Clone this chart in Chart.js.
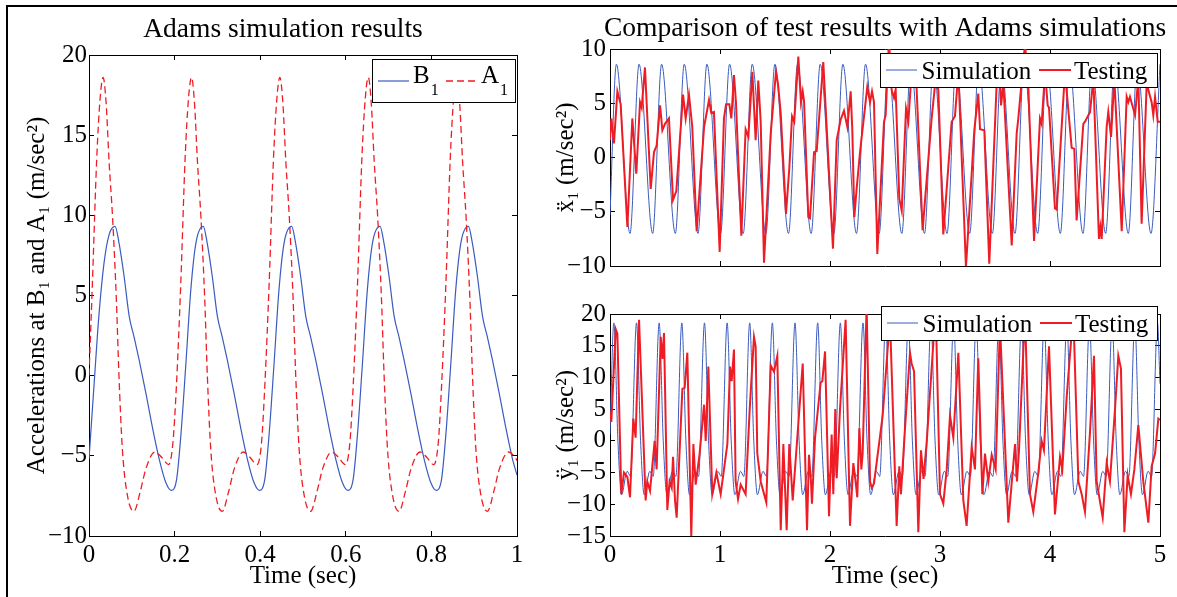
<!DOCTYPE html>
<html>
<head>
<meta charset="utf-8">
<script src="https://cdn.jsdelivr.net/npm/chart.js@4.4.0/dist/chart.umd.min.js"></script>
<style>
  html, body { margin: 0; padding: 0; background: #fff; }
  body { width: 1177px; height: 597px; position: relative; overflow: hidden; }
  canvas { position: absolute; }
  #frame { position: absolute; left: 6px; top: 5px; width: 1171px; height: 592px;
           border-top: 2px solid #000; border-left: 2px solid #000; }
</style>
</head>
<body>
<div id="frame"></div>
<canvas id="adams" width="580" height="597" style="left:0;top:0"></canvas>
<canvas id="testX" width="647" height="290" style="left:530px;top:0"></canvas>
<canvas id="testY" width="647" height="307" style="left:530px;top:290px"></canvas>
<script>
// Adams simulation, left panel (time in sec, acceleration in m/sec^2)
const b1Time = [0, 0.012, 0.023, 0.035, 0.047, 0.061, 0.070, 0.082, 0.094, 0.105, 0.117, 0.133, 0.148, 0.164, 0.180, 0.192,
  0.2045, 0.215, 0.226, 0.238, 0.250, 0.267, 0.276, 0.288, 0.300, 0.311, 0.323, 0.339, 0.354, 0.370, 0.386, 0.398,
  0.4105, 0.421, 0.432, 0.444, 0.456, 0.4735, 0.4825, 0.4945, 0.5065, 0.5175, 0.5295, 0.5455, 0.5605, 0.5765, 0.5925, 0.6045,
  0.617, 0.6275, 0.6385, 0.6505, 0.6625, 0.680, 0.689, 0.701, 0.713, 0.724, 0.736, 0.752, 0.767, 0.783, 0.799, 0.811,
  0.8235, 0.834, 0.845, 0.857, 0.869, 0.8865, 0.8955, 0.9075, 0.9195, 0.9305, 0.9425, 0.9585, 0.9735, 0.9895, 1.0];
const b1Accel = [-5.2, -0.5, 3.7, 7.0, 8.8, 9.31, 8.3, 6.2, 3.7, 2.45, 1.0, -1.1, -3.2, -5.2, -6.7, -7.15,
  -6.5, -3.6, 0.6, 5.4, 8.3, 9.31, 8.3, 6.2, 3.7, 2.45, 1.0, -1.1, -3.2, -5.2, -6.7, -7.15,
  -6.5, -3.6, 0.6, 5.4, 8.3, 9.31, 8.3, 6.2, 3.7, 2.45, 1.0, -1.1, -3.2, -5.2, -6.7, -7.15,
  -6.5, -3.6, 0.6, 5.4, 8.3, 9.31, 8.3, 6.2, 3.7, 2.45, 1.0, -1.1, -3.2, -5.2, -6.7, -7.15,
  -6.5, -3.6, 0.6, 5.4, 8.3, 9.31, 8.3, 6.2, 3.7, 2.45, 1.0, -1.1, -3.2, -5.2, -6.2];

const a1Time = [0, 0.008, 0.018, 0.026, 0.033, 0.040, 0.047, 0.055, 0.064, 0.070, 0.078, 0.090, 0.105, 0.120, 0.133, 0.154, 0.170, 0.186,
  0.196, 0.2045, 0.2145, 0.2245, 0.2325, 0.2395, 0.2465, 0.2535, 0.2615, 0.2705, 0.2765, 0.2845, 0.2965, 0.3115, 0.3265, 0.3395, 0.3605, 0.3765, 0.3925,
  0.403, 0.411, 0.421, 0.431, 0.439, 0.446, 0.453, 0.460, 0.468, 0.477, 0.483, 0.491, 0.503, 0.518, 0.533, 0.546, 0.567, 0.583, 0.599,
  0.6095, 0.6175, 0.6275, 0.6375, 0.6455, 0.6525, 0.6595, 0.6665, 0.6745, 0.6835, 0.6895, 0.6975, 0.7095, 0.7245, 0.7395, 0.7525, 0.7735, 0.7895, 0.8055,
  0.816, 0.824, 0.834, 0.844, 0.852, 0.859, 0.866, 0.873, 0.881, 0.890, 0.896, 0.904, 0.916, 0.931, 0.946, 0.959, 0.980, 0.996, 1.0];
const a1Accel = [0.0, 5.8, 13.5, 17.3, 18.6, 17.0, 13.3, 9.9, 4.7, 0, -4.6, -7.5, -8.46, -7.2, -5.8, -4.76, -5.1, -5.55,
  -4.2, -0.5, 5.8, 13.5, 17.3, 18.6, 17.0, 13.3, 9.9, 4.7, 0, -4.6, -7.5, -8.46, -7.2, -5.8, -4.76, -5.1, -5.55,
  -4.2, -0.5, 5.8, 13.5, 17.3, 18.6, 17.0, 13.3, 9.9, 4.7, 0, -4.6, -7.5, -8.46, -7.2, -5.8, -4.76, -5.1, -5.55,
  -4.2, -0.5, 5.8, 13.5, 17.3, 18.6, 17.0, 13.3, 9.9, 4.7, 0, -4.6, -7.5, -8.46, -7.2, -5.8, -4.76, -5.1, -5.55,
  -4.2, -0.5, 5.8, 13.5, 17.3, 18.6, 17.0, 13.3, 9.9, 4.7, 0, -4.6, -7.5, -8.46, -7.2, -5.8, -4.76, -5.1, -5.3];

// right top panel: x1 double dot, simulation (peaks / troughs) and test record
const xSimTime = [0, 0.058, 0.182, 0.264, 0.388, 0.469, 0.594, 0.675, 0.800, 0.881, 1.005, 1.087, 1.211, 1.293, 1.417,
  1.499, 1.623, 1.705, 1.829, 1.911, 2.035, 2.117, 2.241, 2.323, 2.447, 2.528, 2.653, 2.734, 2.859, 2.940, 3.064,
  3.146, 3.270, 3.352, 3.476, 3.558, 3.682, 3.764, 3.888, 3.970, 4.094, 4.176, 4.300, 4.382, 4.506, 4.587, 4.712,
  4.793, 4.918, 5.000];
const xSimAccel = [-5.3, 8.6, -7.0, 8.6, -7.0, 8.6, -7.0, 8.6, -7.0, 8.6, -7.0, 8.6, -7.0, 8.6, -7.0,
  8.6, -7.0, 8.6, -7.0, 8.6, -7.0, 8.6, -7.0, 8.6, -7.0, 8.6, -7.0, 8.6, -7.0, 8.6, -7.0,
  8.6, -7.0, 8.6, -7.0, 8.6, -7.0, 8.6, -7.0, 8.6, -7.0, 8.6, -7.0, 8.6, -7.0, 8.6, -7.0,
  8.6, -7.0, 8.6];

const xTestTime = [0.000, 0.012, 0.036, 0.067, 0.097, 0.158, 0.203, 0.239, 0.273, 0.288, 0.318, 0.370, 0.400, 0.424, 0.455,
  0.476, 0.500, 0.536, 0.573, 0.603, 0.664, 0.688, 0.718, 0.748, 0.788, 0.855, 0.900, 0.921, 0.945, 0.997,
  1.036, 1.055, 1.085, 1.103, 1.127, 1.145, 1.194, 1.233, 1.258, 1.294, 1.324, 1.348, 1.370, 1.400, 1.461,
  1.509, 1.527, 1.552, 1.600, 1.630, 1.655, 1.675, 1.712, 1.736, 1.752, 1.764, 1.803, 1.818, 1.855, 1.879,
  1.939, 2.027, 2.061, 2.097, 2.127, 2.158, 2.188, 2.203, 2.221, 2.242, 2.273, 2.339, 2.364, 2.382, 2.400,
  2.430, 2.491, 2.506, 2.536, 2.561, 2.582, 2.597, 2.630, 2.652, 2.691, 2.712, 2.742, 2.764, 2.782, 2.842,
  2.924, 2.964, 2.985, 3.030, 3.106, 3.136, 3.167, 3.236, 3.312, 3.348, 3.364, 3.403, 3.448, 3.515, 3.536,
  3.555, 3.576, 3.652, 3.697, 3.712, 3.773, 3.803, 3.855, 3.909, 3.924, 3.955, 3.979, 3.991, 4.045, 4.061,
  4.136, 4.197, 4.221, 4.242, 4.303, 4.318, 4.364, 4.394, 4.445, 4.458, 4.470, 4.515, 4.530, 4.555, 4.585,
  4.652, 4.697, 4.712, 4.727, 4.773, 4.803, 4.833, 4.879, 4.924, 4.939, 4.955, 4.979, 5.000];
const xTestAccel = [1.6, 3.6, 1.3, 6.1, 4.9, -6.4, 3.6, -1.5, 5.1, 4.6, 8.3, -2.9, 0.5, 1.1, 4.8,
  2.5, 3.1, 3.6, -3.9, -3.1, 5.8, 3.6, 5.8, 2.8, -6.8, 2.8, 5.3, 4.1, 4.2, -8.7,
  3.6, 4.9, 4.9, 3.6, 7.6, 5.1, -7.2, 2.6, 1.9, 7.9, 1.6, 7.1, 3.3, -9.7, 2.2,
  7.9, 6.8, 4.1, -5.2, -1.0, 3.8, 3.3, 9.3, 5.1, 6.1, 5.2, -5.5, -5.6, 0.5, 0.6,
  8.8, -8.4, 1.6, 3.5, 4.3, 2.8, 6.1, 2.5, -5.5, -2.9, 0.5, 6.5, 5.1, 6.1, 5.1,
  -8.9, 3.3, 3.9, 10.8, 6.2, 5.5, 6.3, -3.8, -4.9, 4.5, 3.3, 7.9, 6.8, 7.6, -6.7,
  3.6, 7.6, 6.2, -7.1, 3.3, 3.8, 7.9, -10.1, 2.5, 5.9, 2.6, 2.5, -9.8, 6.8, 9.0,
  4.8, 6.8, -8.1, 2.2, 3.6, 10.5, 6.5, -7.7, 3.6, 3.1, 7.9, 4.8, 4.6, -4.7, -4.8,
  7.9, 0.9, 0.8, -5.8, 3.1, 3.3, 4.2, 7.3, -7.5, -6.4, -7.5, 2.8, 4.2, 1.9, 7.3,
  -6.8, 5.6, 5.1, 5.6, 3.9, 7.3, -6.1, 6.8, 5.1, 3.9, 5.6, 3.3, 3.3];

// right bottom panel: y1 double dot
const ySimTime = [0,
  0.035, 0.072, 0.105, 0.156, 0.187, 0.241, 0.278, 0.311, 0.362, 0.393,
  0.447, 0.484, 0.517, 0.568, 0.599, 0.653, 0.690, 0.723, 0.774, 0.805,
  0.859, 0.896, 0.929, 0.980, 1.011, 1.065, 1.102, 1.135, 1.186, 1.217,
  1.270, 1.307, 1.340, 1.391, 1.422, 1.476, 1.513, 1.546, 1.597, 1.628,
  1.682, 1.719, 1.752, 1.803, 1.834, 1.888, 1.925, 1.958, 2.009, 2.040,
  2.094, 2.131, 2.164, 2.215, 2.246, 2.300, 2.337, 2.370, 2.421, 2.452,
  2.506, 2.543, 2.576, 2.627, 2.658, 2.712, 2.749, 2.782, 2.833, 2.864,
  2.918, 2.955, 2.988, 3.039, 3.070, 3.124, 3.161, 3.194, 3.245, 3.276,
  3.329, 3.366, 3.399, 3.450, 3.481, 3.535, 3.572, 3.605, 3.656, 3.687,
  3.741, 3.778, 3.811, 3.862, 3.893, 3.947, 3.984, 4.017, 4.068, 4.099,
  4.153, 4.190, 4.223, 4.274, 4.305, 4.359, 4.396, 4.429, 4.480, 4.511,
  4.565, 4.602, 4.635, 4.686, 4.717, 4.771, 4.808, 4.841, 4.892, 4.923,
  4.977, 5.000];
const ySimAccel = [1.0,
  18.6, 0, -8.5, -4.8, -5.6, 18.6, 0, -8.5, -4.8, -5.6,
  18.6, 0, -8.5, -4.8, -5.6, 18.6, 0, -8.5, -4.8, -5.6,
  18.6, 0, -8.5, -4.8, -5.6, 18.6, 0, -8.5, -4.8, -5.6,
  18.6, 0, -8.5, -4.8, -5.6, 18.6, 0, -8.5, -4.8, -5.6,
  18.6, 0, -8.5, -4.8, -5.6, 18.6, 0, -8.5, -4.8, -5.6,
  18.6, 0, -8.5, -4.8, -5.6, 18.6, 0, -8.5, -4.8, -5.6,
  18.6, 0, -8.5, -4.8, -5.6, 18.6, 0, -8.5, -4.8, -5.6,
  18.6, 0, -8.5, -4.8, -5.6, 18.6, 0, -8.5, -4.8, -5.6,
  18.6, 0, -8.5, -4.8, -5.6, 18.6, 0, -8.5, -4.8, -5.6,
  18.6, 0, -8.5, -4.8, -5.6, 18.6, 0, -8.5, -4.8, -5.6,
  18.6, 0, -8.5, -4.8, -5.6, 18.6, 0, -8.5, -4.8, -5.6,
  18.6, 0, -8.5, -4.8, -5.6, 18.6, 0, -8.5, -4.8, -5.6,
  18.6, 9.0];

const yTestTime = [0.000, 0.012, 0.052, 0.067, 0.103, 0.127, 0.158, 0.182, 0.212, 0.233, 0.264, 0.324, 0.339, 0.364, 0.406,
  0.424, 0.461, 0.476, 0.491, 0.521, 0.542, 0.561, 0.573, 0.591, 0.606, 0.658, 0.679, 0.703, 0.739, 0.758,
  0.779, 0.815, 0.855, 0.870, 0.894, 0.930, 0.967, 1.006, 1.067, 1.091, 1.106, 1.127, 1.142, 1.164, 1.188,
  1.233, 1.270, 1.309, 1.324, 1.339, 1.370, 1.421, 1.461, 1.491, 1.521, 1.552, 1.576, 1.606, 1.630, 1.661,
  1.752, 1.791, 1.809, 1.827, 1.836, 1.864, 1.915, 1.930, 1.955, 1.991, 2.015, 2.030, 2.048, 2.061, 2.091,
  2.142, 2.182, 2.212, 2.236, 2.248, 2.267, 2.285, 2.297, 2.333, 2.364, 2.379, 2.400, 2.479, 2.545, 2.606,
  2.630, 2.645, 2.682, 2.727, 2.742, 2.764, 2.803, 2.827, 2.850, 2.880, 2.961, 3.000, 3.030, 3.061, 3.091,
  3.121, 3.167, 3.212, 3.242, 3.288, 3.318, 3.348, 3.385, 3.409, 3.439, 3.470, 3.506, 3.545, 3.621, 3.658,
  3.682, 3.700, 3.718, 3.773, 3.818, 3.848, 3.894, 3.924, 3.945, 3.991, 4.045, 4.091, 4.112, 4.152, 4.212,
  4.258, 4.288, 4.318, 4.364, 4.400, 4.424, 4.479, 4.515, 4.545, 4.591, 4.621, 4.645, 4.676, 4.706, 4.736,
  4.767, 4.803, 4.848, 4.894, 4.924, 4.955, 4.985, 5.000];
const yTestAccel = [4.5, 3.0, 17.6, 16.9, -8.4, -5.0, -5.7, -8.9, 3.5, 0.5, 19.1, -9.4, -6.4, -7.9, 0.0,
  -4.5, 16.4, 12.9, 17.0, -10.9, -6.4, -7.4, -2.5, -9.4, -12.1, 8.2, 8.4, 13.9, -15.1, -0.5,
  -6.9, -2.0, 5.7, 0.0, 11.7, -8.4, -5.0, -8.4, -0.5, 11.7, 9.4, 14.4, -6.4, -9.2, -6.9,
  -8.4, 5.0, 16.4, 14.9, -2.0, -6.4, -9.7, 11.9, 10.9, 13.4, -14.1, -0.5, -14.1, -0.5, -9.4,
  12.2, -14.1, -2.2, -6.4, -9.9, 0.5, 9.2, 9.4, 14.1, -11.9, 1.0, -8.4, 5.0, -5.9, 5.0,
  19.1, -13.4, -3.5, -6.9, -8.9, 2.0, -4.5, -2.0, 21.3, -6.4, -7.4, -6.7, 4.0, 19.4, -13.4,
  -4.0, -8.4, 2.0, 13.9, 12.2, 11.0, -14.4, -1.5, -6.0, 0.0, 21.0, -8.4, -9.9, -4.5, 4.0,
  0.5, 13.9, -9.4, -13.4, -1.0, -4.5, 13.0, -8.4, -2.0, -6.4, -2.2, -4.5, 18.4, -12.9, -5.4,
  -0.5, -6.4, -1.5, 20.3, -8.4, -11.2, -5.0, 0.0, -1.5, 14.9, -11.6, -2.5, -4.5, 7.0, 20.3,
  -6.4, -8.4, -11.2, 1.5, 13.4, -6.4, -12.1, -3.5, -6.4, 5.0, 13.4, 11.4, -14.4, -5.4, -8.4,
  -4.5, 2.5, -6.4, -12.9, -4.0, -2.0, 3.5, 3.3];

const leftTitle = 'Adams simulation results';
const rightTitle = 'Comparison of test results with Adams simulations';

const BLUE = '#3a5bbf';
const RED = '#ee1d25';
const FONT = "'Liberation Serif', 'DejaVu Serif', serif";
Chart.defaults.font.family = FONT;
Chart.defaults.color = '#000';

const pts = (xs, ys) => xs.map((x, i) => ({ x: x, y: ys[i] }));
const fmt = v => {
  const r = Math.round(v * 100) / 100;
  return r < 0 ? '\u2212' + (-r) : String(r);
};

function xAxis(min, max, step, labels, height) {
  return {
    type: 'linear', position: 'bottom', min: min, max: max,
    ticks: { stepSize: step, display: labels, padding: 9, autoSkip: false, maxRotation: 0,
             font: { size: 25 }, color: '#000', callback: fmt },
    grid: { drawOnChartArea: false, tickLength: -5, color: '#000' },
    border: { color: '#000' },
    title: { display: labels, text: 'Time (sec)', font: { size: 25 }, color: '#000',
             padding: { top: 0, bottom: 6 } },
    afterFit: s => { s.height = height; }
  };
}

function yAxis(min, max, title, width, pad, titlePad) {
  return {
    type: 'linear', position: 'left', min: min, max: max,
    ticks: { stepSize: 5, padding: pad, autoSkip: false, font: { size: 25 }, color: '#000', callback: fmt },
    grid: { drawOnChartArea: false, tickLength: -5, color: '#000' },
    border: { color: '#000' },
    title: { display: true, text: title, font: { size: 25 }, color: '#000',
             padding: { top: titlePad, bottom: 0 } },
    afterFit: s => { s.width = width; }
  };
}

// box edges on the top and right with inward ticks, like the left / bottom axes
function mirror(position, min, max, step) {
  return {
    type: 'linear', position: position, min: min, max: max,
    ticks: { stepSize: step, display: false },
    grid: { drawOnChartArea: false, tickLength: -5, color: '#000' },
    border: { color: '#000' },
    afterFit: s => { if (s.isHorizontal()) s.height = 0; else s.width = 0; }
  };
}

const panelTitle = {
  id: 'panelTitle',
  afterDraw(chart, args, opts) {
    const ctx = chart.ctx;
    ctx.save();
    ctx.font = '27.5px ' + FONT;
    ctx.fillStyle = '#000';
    ctx.textAlign = 'center';
    ctx.textBaseline = 'alphabetic';
    ctx.fillText(opts.text, opts.x, opts.y);
    ctx.restore();
  }
};

// boxed legend drawn over the lines, labels with a real subscript
const boxLegend = {
  id: 'boxLegend',
  afterDatasetsDraw(chart, args, opts) {
    const ctx = chart.ctx;
    const x0 = opts.x, y0 = opts.y;
    ctx.save();
    ctx.fillStyle = '#fff';
    ctx.fillRect(x0, y0, opts.w, opts.h);
    ctx.strokeStyle = '#000';
    ctx.lineWidth = 1;
    ctx.strokeRect(x0 + 0.5, y0 + 0.5, opts.w - 1, opts.h - 1);
    chart.data.datasets.forEach((ds, i) => {
      const it = opts.items[i];
      ctx.strokeStyle = ds.borderColor;
      ctx.lineWidth = ds.borderWidth;
      ctx.setLineDash(ds.borderDash || []);
      ctx.beginPath();
      ctx.moveTo(x0 + it.lx, y0 + opts.lineY);
      ctx.lineTo(x0 + it.lx + it.len, y0 + opts.lineY);
      ctx.stroke();
      ctx.setLineDash([]);
      let label = ds.label, sub = '';
      const m = label.match(/^(.*?)([\u2080-\u2089])$/);
      if (m) { label = m[1]; sub = String.fromCharCode(m[2].charCodeAt(0) - 0x2080 + 48); }
      ctx.fillStyle = '#000';
      ctx.textAlign = 'left';
      ctx.textBaseline = 'alphabetic';
      ctx.font = '25px ' + FONT;
      ctx.fillText(label, x0 + it.tx, y0 + opts.baseY);
      if (sub) {
        const w = ctx.measureText(label).width;
        ctx.font = '16px ' + FONT;
        ctx.fillText(sub, x0 + it.tx + w + 1, y0 + opts.baseY + 12);
      }
    });
    ctx.restore();
  }
};

const common = {
  responsive: false,
  animation: false,
  devicePixelRatio: 1,
  events: []
};

new Chart(document.getElementById('adams'), {
  type: 'line',
  data: {
    datasets: [
      { label: 'B\u2081', data: pts(b1Time, b1Accel), borderColor: BLUE, borderWidth: 1.2,
        pointRadius: 0, cubicInterpolationMode: 'monotone', order: 2 },
      { label: 'A\u2081', data: pts(a1Time, a1Accel), borderColor: RED, borderWidth: 1.3,
        borderDash: [7, 4], pointRadius: 0, cubicInterpolationMode: 'monotone', order: 1 }
    ]
  },
  options: Object.assign({}, common, {
    layout: { autoPadding: false, padding: { top: 55, right: 63, left: 0, bottom: 0 } },
    scales: {
      x: xAxis(0, 1, 0.2, true, 61),
      y: yAxis(-10, 20, 'Accelerations at B\u2081 and A\u2081 (m/sec\u00b2)', 89, 7, 22),
      x2: mirror('top', 0, 1, 0.2),
      y2: mirror('right', -10, 20, 5)
    },
    plugins: {
      legend: { display: false },
      tooltip: { enabled: false },
      panelTitle: { text: leftTitle, x: 283, y: 37 },
      boxLegend: { x: 372, y: 59, w: 144, h: 44, lineY: 22, baseY: 24,
                   items: [{ lx: 6, len: 31, tx: 41 }, { lx: 74, len: 32, tx: 109 }] }
    }
  }),
  plugins: [panelTitle, boxLegend]
});

new Chart(document.getElementById('testX'), {
  type: 'line',
  data: {
    datasets: [
      { label: 'Simulation', data: pts(xSimTime, xSimAccel), borderColor: BLUE, borderWidth: 1,
        pointRadius: 0, cubicInterpolationMode: 'monotone', order: 2 },
      { label: 'Testing', data: pts(xTestTime, xTestAccel), borderColor: RED, borderWidth: 2,
        pointRadius: 0, tension: 0, order: 1 }
    ]
  },
  options: Object.assign({}, common, {
    layout: { autoPadding: false, padding: { top: 49, right: 17, left: 0, bottom: 0 } },
    scales: {
      x: xAxis(0, 5, 1, false, 8),
      y: yAxis(-10, 10, '\u1e8d\u2081 (m/sec\u00b2)', 80, 9, 21),
      x2: mirror('top', 0, 5, 1),
      y2: mirror('right', -10, 10, 5)
    },
    plugins: {
      legend: { display: false },
      tooltip: { enabled: false },
      panelTitle: { text: rightTitle, x: 355, y: 35.5 },
      boxLegend: { x: 350, y: 53, w: 278, h: 35, lineY: 17, baseY: 25.5,
                   items: [{ lx: 6, len: 31, tx: 41.5 }, { lx: 159, len: 32, tx: 194 }] }
    }
  }),
  plugins: [panelTitle, boxLegend]
});

new Chart(document.getElementById('testY'), {
  type: 'line',
  data: {
    datasets: [
      { label: 'Simulation', data: pts(ySimTime, ySimAccel), borderColor: BLUE, borderWidth: 1,
        pointRadius: 0, cubicInterpolationMode: 'monotone', order: 2 },
      { label: 'Testing', data: pts(yTestTime, yTestAccel), borderColor: RED, borderWidth: 2,
        pointRadius: 0, tension: 0, order: 1 }
    ]
  },
  options: Object.assign({}, common, {
    layout: { autoPadding: false, padding: { top: 11, right: 17, left: 0, bottom: 0 } },
    scales: {
      x: xAxis(0, 5, 1, true, 61),
      y: yAxis(-15, 20, '\u00ff\u2081 (m/sec\u00b2)', 80, 9, 21),
      x2: mirror('top', 0, 5, 1),
      y2: mirror('right', -15, 20, 5)
    },
    plugins: {
      legend: { display: false },
      tooltip: { enabled: false },
      boxLegend: { x: 351, y: 16, w: 277, h: 35, lineY: 17, baseY: 25.5,
                   items: [{ lx: 6, len: 31, tx: 41.5 }, { lx: 159, len: 32, tx: 194 }] }
    }
  }),
  plugins: [boxLegend]
});
</script>
</body>
</html>
